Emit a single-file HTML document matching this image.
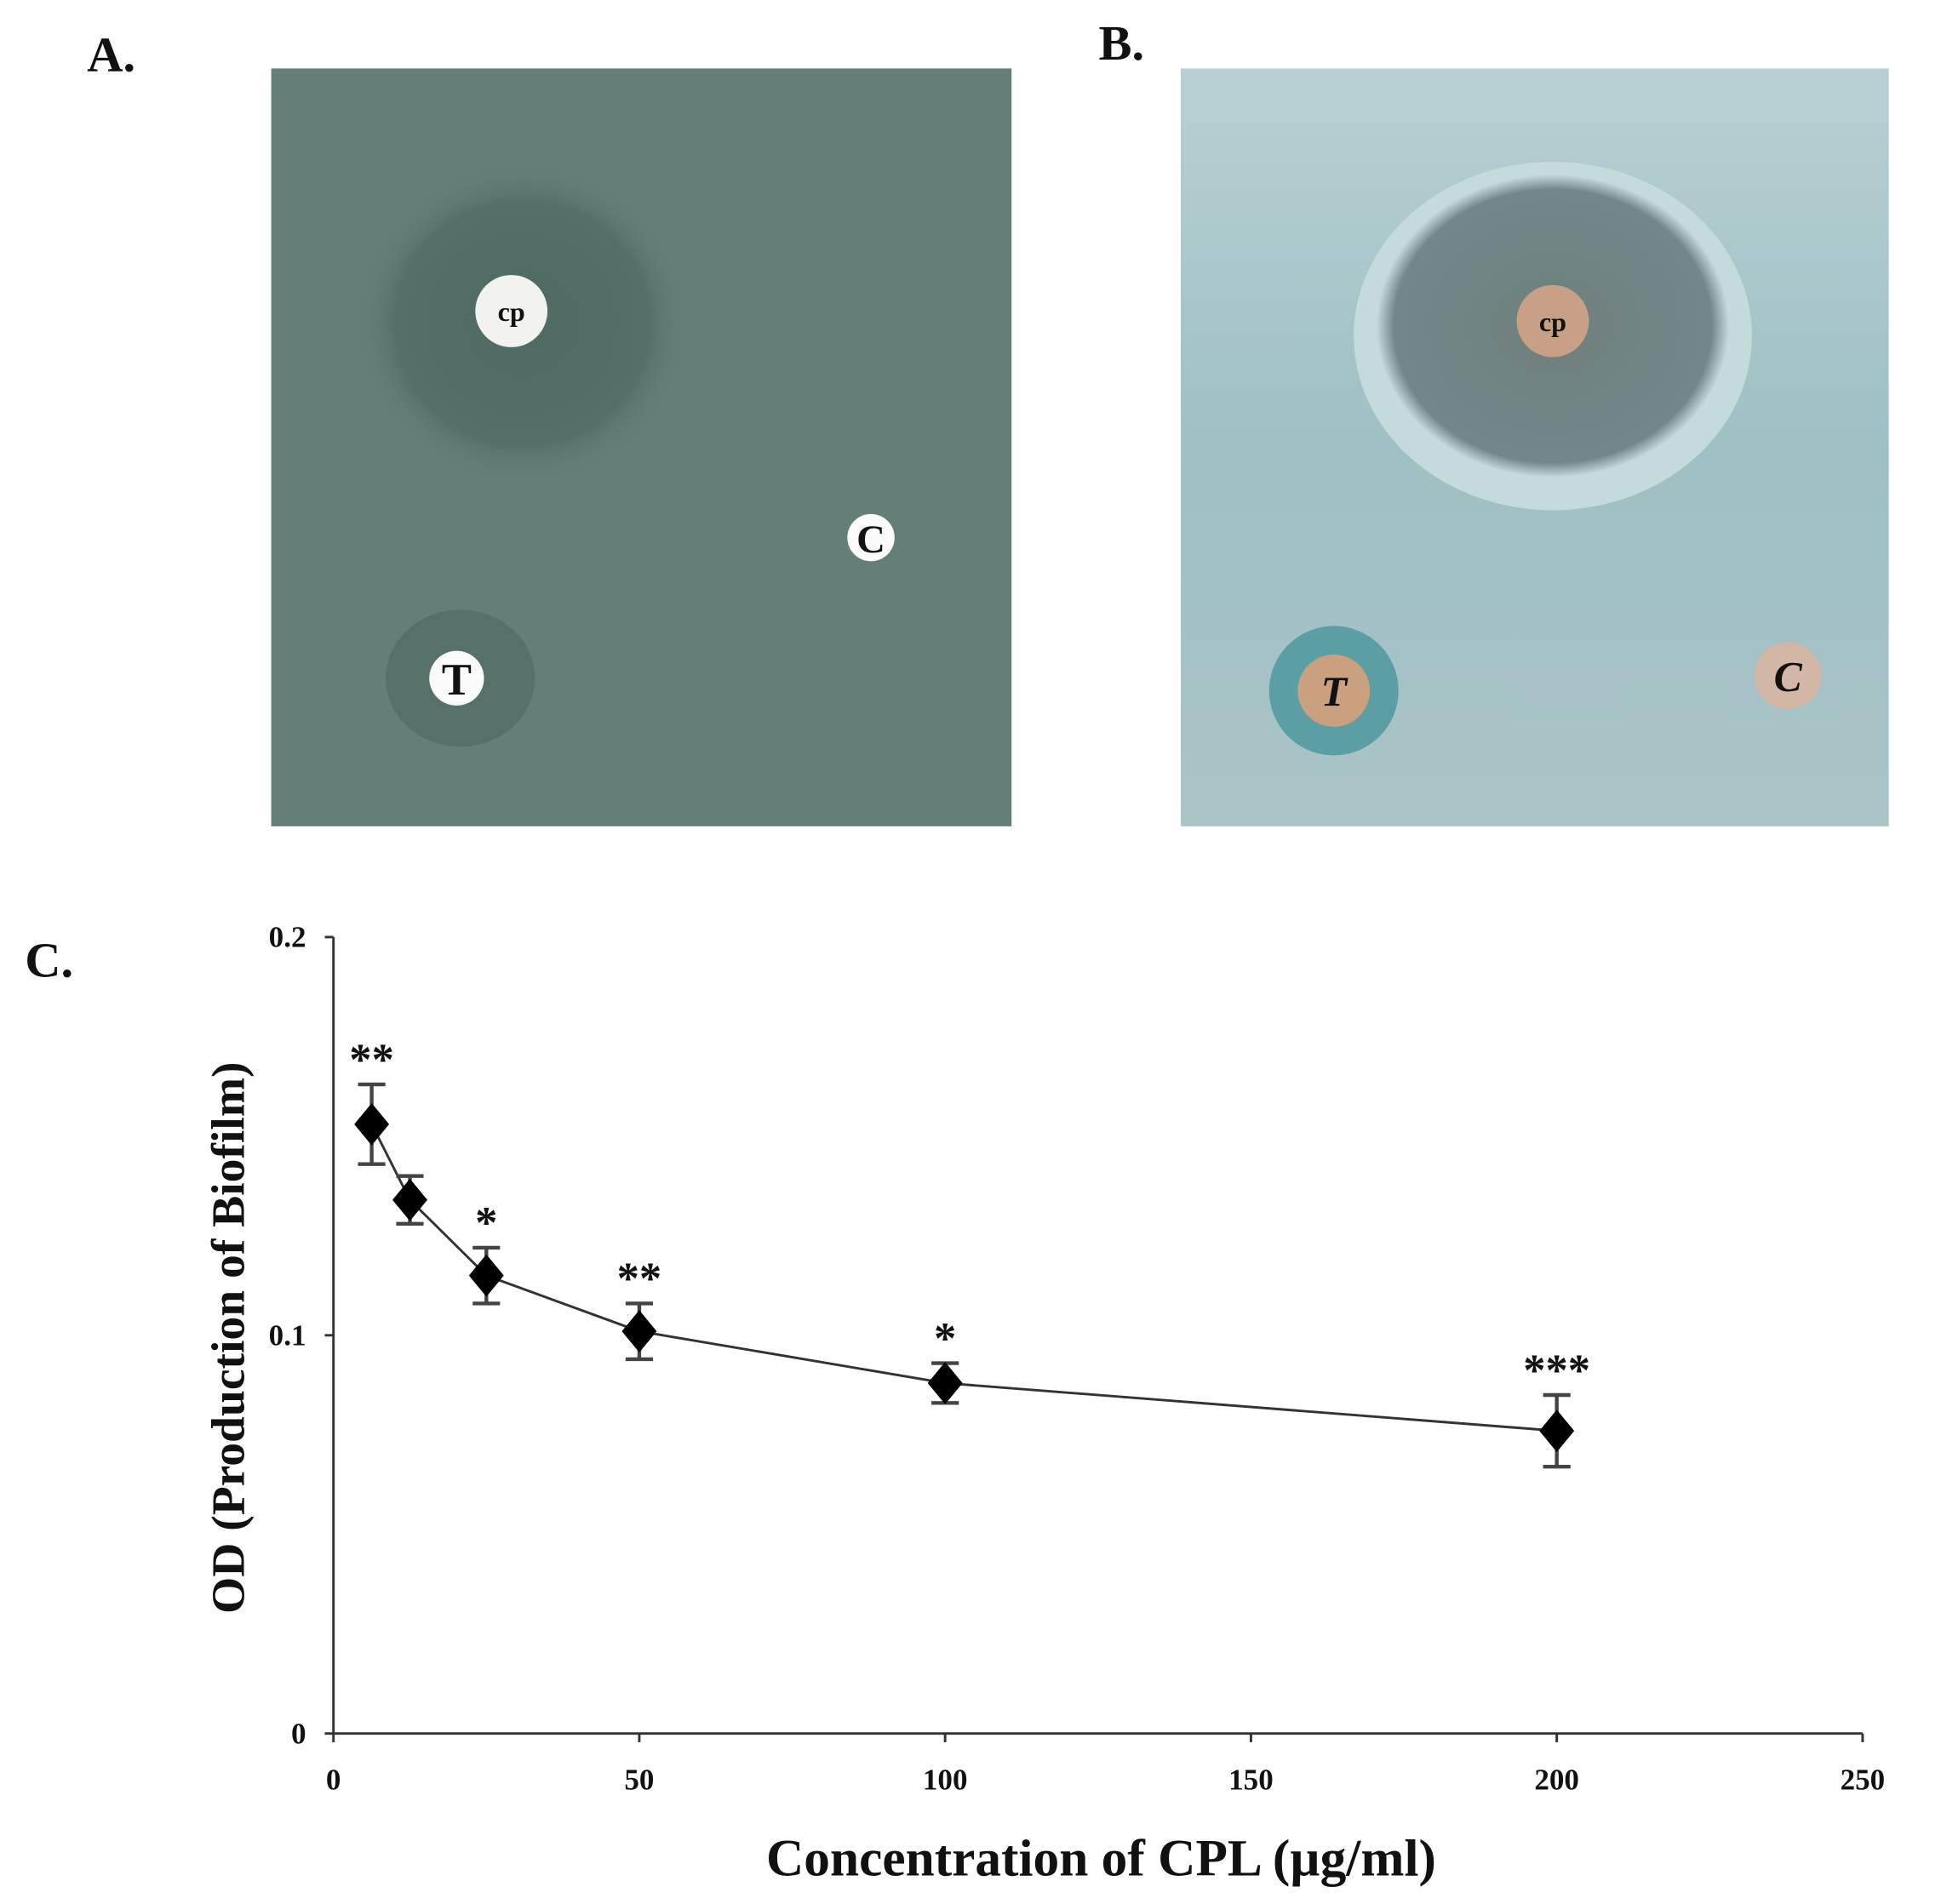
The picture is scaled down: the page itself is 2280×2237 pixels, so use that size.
<!DOCTYPE html>
<html><head><meta charset="utf-8"><style>
html,body{margin:0;padding:0;background:#fff}
svg{display:block}
text{font-family:"Liberation Serif",serif;font-weight:bold;fill:#111}
</style></head><body>
<svg width="2280" height="2237" viewBox="0 0 1560 1530" preserveAspectRatio="none" xmlns="http://www.w3.org/2000/svg">
<defs>
<radialGradient id="gA" cx="0.5" cy="0.5" r="0.5"><stop offset="0" stop-color="#4f6a62"/><stop offset="0.75" stop-color="#54706a"/><stop offset="1" stop-color="#62807a" stop-opacity="0"/></radialGradient>
<radialGradient id="gB" cx="0.5" cy="0.5" r="0.5"><stop offset="0" stop-color="#6e7f7b"/><stop offset="0.9" stop-color="#74868a"/><stop offset="1" stop-color="#c9dcdc"/></radialGradient>
<linearGradient id="bgB" x1="0" y1="0" x2="0" y2="1"><stop offset="0" stop-color="#b7d0d3"/><stop offset="0.5" stop-color="#9fc0c4"/><stop offset="1" stop-color="#aac4c7"/></linearGradient>
</defs>
<text x="70" y="57" font-size="40">A.</text>
<text x="883" y="48" font-size="40">B.</text>
<g>
<rect x="218" y="55" width="595" height="609" fill="#647f78"/>
<ellipse cx="420" cy="260" rx="135" ry="130" fill="url(#gA)"/>
<ellipse cx="370" cy="545" rx="60" ry="55" fill="#56716a"/>
<circle cx="411" cy="250" r="29" fill="#f2f2ee"/>
<text x="411" y="258" font-size="22" text-anchor="middle" fill="#555">cp</text>
<circle cx="367" cy="545" r="22" fill="#fafafa"/>
<text x="367" y="558" font-size="36" text-anchor="middle">T</text>
<circle cx="700" cy="432" r="19" fill="#fafafa"/>
<text x="700" y="444" font-size="32" text-anchor="middle">C</text>
</g>
<g>
<rect x="949" y="55" width="569" height="609" fill="url(#bgB)"/>
<ellipse cx="1248" cy="270" rx="160" ry="140" fill="#c4dadb"/>
<ellipse cx="1248" cy="262" rx="142" ry="122" fill="url(#gB)"/>
<circle cx="1248" cy="258" r="29" fill="#c7a085"/>
<text x="1248" y="266" font-size="22" text-anchor="middle" fill="#333">cp</text>
<circle cx="1072" cy="555" r="52" fill="#5b9ea3"/>
<circle cx="1072" cy="555" r="29" fill="#cba07e"/>
<text x="1072" y="567" font-size="34" text-anchor="middle" font-style="italic">T</text>
<circle cx="1437" cy="543" r="27" fill="#d2b6a6"/>
<text x="1437" y="555" font-size="34" text-anchor="middle" font-style="italic">C</text>
</g>
<text x="20" y="785" font-size="40">C.</text>
<g id="chart"></g>
<text transform="translate(196,1075) rotate(-90)" font-size="38" text-anchor="middle" font-family="Liberation Sans">OD (Production of Biofilm)</text>
<text x="885" y="1507" font-size="42" text-anchor="middle">Concentration of CPL (µg/ml)</text>
</svg>
<script>
const concentrations=[6.25,12.5,25,50,100,200];
const odValues=[0.153,0.134,0.115,0.101,0.088,0.076];
const errValues=[0.010,0.006,0.007,0.007,0.005,0.009];
const sigLabels=["**","","*","**","*","***"];
const xTicks=[0,50,100,150,200,250];
const yTicks=[0,0.1,0.2];
const NS="http://www.w3.org/2000/svg";
const g=document.getElementById('chart');
const X0=268,X1=1497,Y0=1393,Y1=753;
const sx=v=>X0+(v-0)/250*(X1-X0);
const sy=v=>Y0-(v/0.2)*(Y0-Y1);
function mk(t,a,p){const e=document.createElementNS(NS,t);for(const k in a)e.setAttribute(k,a[k]);(p||g).appendChild(e);return e;}
let ax=mk('line',{x1:X0,y1:Y1,x2:X0,y2:Y0,stroke:'#333','stroke-width':2});


let bx=mk('line',{x1:X0,y1:Y0,x2:X1,y2:Y0,stroke:'#333','stroke-width':2});


xTicks.forEach(v=>{
 mk('line',{x1:sx(v),y1:Y0,x2:sx(v),y2:Y0+7,stroke:'#333','stroke-width':2});
 const t=mk('text',{x:sx(v),y:Y0+45,'font-size':24,'text-anchor':'middle'});t.textContent=v;
 
 
});
yTicks.forEach(v=>{
 mk('line',{x1:X0-7,y1:sy(v),x2:X0,y2:sy(v),stroke:'#333','stroke-width':2});
 const t=mk('text',{x:X0-22,y:sy(v)+8,'font-size':24,'text-anchor':'end'});t.textContent=v;
 
 
});
const line=mk('polyline',{points:concentrations.map((c,i)=>sx(c)+','+sy(odValues[i])).join(' '),fill:'none',stroke:'#333','stroke-width':2});


concentrations.forEach((c,i)=>{
 const x=sx(c),y=sy(odValues[i]),yt=sy(odValues[i]+errValues[i]),yb=sy(odValues[i]-errValues[i]);
 const eb=mk('path',{d:`M${x},${yt}V${yb}M${x-11},${yt}H${x+11}M${x-11},${yb}H${x+11}`,stroke:'#444','stroke-width':3,fill:'none'});
 
 
 const p=mk('path',{d:`M${x},${y-17}L${x+14},${y}L${x},${y+17}L${x-14},${y}Z`,fill:'#000'});
 
 
 if(sigLabels[i]){const t=mk('text',{x:x,y:yt-8,'font-size':36,'text-anchor':'middle','font-family':'Liberation Sans'});t.textContent=sigLabels[i];
 
 }
});
</script>
</body></html>
